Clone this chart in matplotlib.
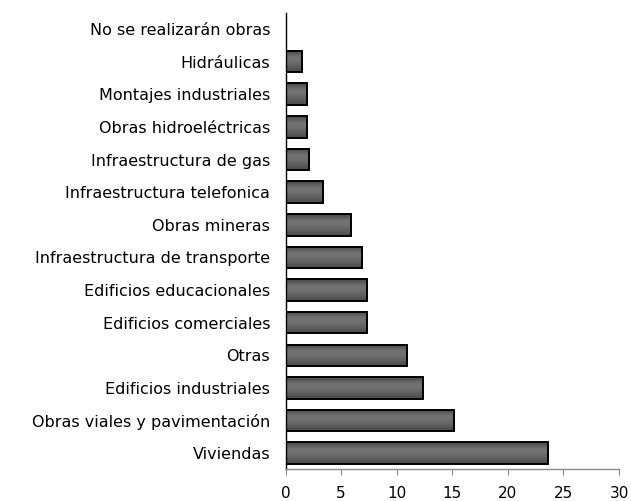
import numpy as np
import matplotlib
matplotlib.use("Agg")
import matplotlib.pyplot as plt

# ── Data ──────────────────────────────────────────────────────────────────────
categories = [
    "Viviendas",
    "Obras viales y pavimentación",
    "Edificios industriales",
    "Otras",
    "Edificios comerciales",
    "Edificios educacionales",
    "Infraestructura de transporte",
    "Obras mineras",
    "Infraestructura telefonica",
    "Infraestructura de gas",
    "Obras hidroeléctricas",
    "Montajes industriales",
    "Hidráulicas",
    "No se realizarán obras",
]
values = [23.6, 15.2, 12.4, 10.9, 7.3, 7.3, 6.9, 5.9, 3.4, 2.1, 1.9, 1.9, 1.5, 0.0]
xticks = [0, 5, 10, 15, 20, 25, 30]

plt.rcParams["font.family"] = ["DejaVu Sans"]

fig = plt.figure(figsize=(6.31, 5.01), dpi=100)
ax = fig.add_axes([0.4525, 0.0629, 0.981 - 0.4525, 0.9747 - 0.0629])

y = np.arange(len(categories))
bars = ax.barh(y, values, height=0.66, color="#686868",
               edgecolor="black", linewidth=1.4, zorder=3)

# vertical shading inside each bar
grad = np.array([0.30, 0.40, 0.46, 0.44, 0.40, 0.36, 0.30]).reshape(-1, 1)
for b in bars:
    if b.get_width() <= 0:
        continue
    x0, y0 = b.get_x(), b.get_y()
    ax.imshow(grad, cmap="gray", vmin=0, vmax=1, aspect="auto",
              extent=(x0, x0 + b.get_width(), y0, y0 + b.get_height()),
              interpolation="bicubic", zorder=2)
    b.set_facecolor("none")

ax.set_xlim(0, 30)
ax.set_ylim(-0.5, len(categories) - 0.5)
ax.set_xticks(xticks)
ax.set_xticklabels([str(t) for t in xticks])
ax.set_yticks(y)
ax.set_yticklabels(categories)

ax.tick_params(axis="y", length=0, pad=11, labelsize=11.5)
ax.tick_params(axis="x", length=4, color="#888888", pad=8, labelsize=11)

for side in ("top", "right"):
    ax.spines[side].set_visible(False)
ax.spines["left"].set_color("black")
ax.spines["left"].set_linewidth(1.0)
ax.spines["bottom"].set_color("#888888")
ax.spines["bottom"].set_linewidth(1.0)

fig.savefig("out.png", dpi=100, facecolor="white")
